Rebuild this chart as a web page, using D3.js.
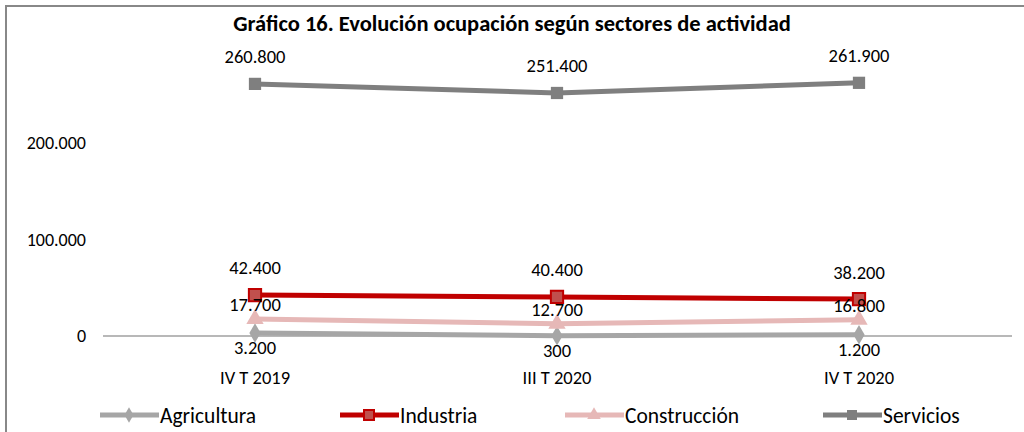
<!DOCTYPE html>
<html>
<head>
<meta charset="utf-8">
<script src="https://cdn.jsdelivr.net/npm/d3@7"></script>
<style>
  body { margin: 0; background: #fff; }
  svg { font-family: Carlito, Lato, "Liberation Sans", sans-serif; }
</style>
</head>
<body>
<svg width="1024" height="432"></svg>
<script>
// data
const categories = ["IV T 2019", "III T 2020", "IV T 2020"];
const agricultura = [3200, 300, 1200];
const industria = [42400, 40400, 38200];
const construccion = [17700, 12700, 16800];
const servicios = [260800, 251400, 261900];
const yTicks = [0, 100000, 200000];

const series = [
  { name: "Agricultura", values: agricultura, color: "#a6a6a6", marker: "diamond", labelDy: 15 },
  { name: "Industria", values: industria, color: "#c00000", marker: "square", fill: "#c0504d", labelDy: -27 },
  { name: "Construcción", values: construccion, color: "#e6b8b7", marker: "triangle", labelDy: -14 },
  { name: "Servicios", values: servicios, color: "#7f7f7f", marker: "square", labelDy: -27 }
];

const svg = d3.select("svg");
const fmt = v => d3.format(",")(v).replace(/,/g, ".");

// outer frame (only left and top visible)
svg.append("path")
  .attr("d", "M6,432 V6 H1024")
  .attr("fill", "none")
  .attr("stroke", "#888")
  .attr("stroke-width", 2);

svg.append("text")
  .attr("x", 512).attr("y", 31)
  .attr("text-anchor", "middle")
  .attr("font-weight", "bold")
  .attr("font-size", 22.5)
  .text("Gráfico 16. Evolución ocupación según sectores de actividad");

const x = d3.scalePoint().domain(categories).range([255, 859]);
const y = d3.scaleLinear().domain([0, 300000]).range([336, 46]);

// y labels
svg.append("g").selectAll("text")
  .data(yTicks).join("text")
  .attr("x", 86).attr("y", d => y(d))
  .attr("dy", "0.35em")
  .attr("text-anchor", "end")
  .attr("font-size", 18)
  .text(fmt);

// x axis line
svg.append("line")
  .attr("x1", 103).attr("x2", 1012)
  .attr("y1", y(0)).attr("y2", y(0))
  .attr("stroke", "#a0a0a0").attr("stroke-width", 1.5);

svg.append("g").selectAll("text")
  .data(categories).join("text")
  .attr("x", d => x(d)).attr("y", 378)
  .attr("dy", "0.35em")
  .attr("text-anchor", "middle")
  .attr("font-size", 18.5)
  .text(d => d);

const symbols = {
  diamond: d3.symbol().type(d3.symbolDiamond).size(110),
  square: d3.symbol().type(d3.symbolSquare).size(150),
  triangle: d3.symbol().type(d3.symbolTriangle).size(130)
};
const legendSymbols = {
  diamond: d3.symbol().type(d3.symbolDiamond).size(70),
  square: d3.symbol().type(d3.symbolSquare).size(100),
  triangle: d3.symbol().type(d3.symbolTriangle).size(80)
};

const line = d3.line().x((d, i) => x(categories[i])).y(d => y(d));

series.forEach(s => {
  const g = svg.append("g");
  g.append("path")
    .datum(s.values)
    .attr("d", line)
    .attr("fill", "none")
    .attr("stroke", s.color)
    .attr("stroke-width", 5);
  g.selectAll("path.m")
    .data(s.values).join("path")
    .attr("class", "m")
    .attr("transform", (d, i) => `translate(${x(categories[i])},${y(d)})`)
    .attr("d", symbols[s.marker])
    .attr("fill", s.fill || s.color)
    .attr("stroke", s.color)
    .attr("stroke-width", s.fill ? 2 : 0);
  g.selectAll("text")
    .data(s.values).join("text")
    .attr("x", (d, i) => x(categories[i]))
    .attr("y", d => y(d) + s.labelDy)
    .attr("dy", "0.35em")
    .attr("text-anchor", "middle")
    .attr("font-size", 18.5)
    .text(fmt);
});

// legend
const legendX = [100, 340, 565, 823];
const lg = svg.append("g").selectAll("g")
  .data(series).join("g")
  .attr("transform", (d, i) => `translate(${legendX[i]},415)`);
lg.append("line")
  .attr("x1", 0).attr("x2", 59)
  .attr("stroke", d => d.color).attr("stroke-width", 5);
lg.append("path")
  .attr("transform", "translate(29,0)")
  .attr("d", d => legendSymbols[d.marker]())
  .attr("fill", d => d.fill || d.color)
  .attr("stroke", d => d.color)
  .attr("stroke-width", d => d.fill ? 2 : 0);
lg.append("text")
  .attr("x", 60).attr("dy", "0.35em")
  .attr("font-size", 21.5)
  .text(d => d.name);
</script>
</body>
</html>
